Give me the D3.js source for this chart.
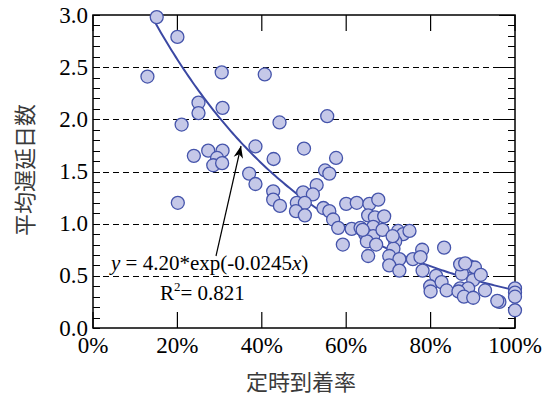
<!DOCTYPE html>
<html>
<head>
<meta charset="utf-8">
<script src="https://cdn.jsdelivr.net/npm/d3@7"></script>
<style>
  body { margin: 0; background: #fff; }
</style>
</head>
<body>
<div id="vis"></div>
<script>
// on-time rate (%) vs. average delay days
const rate = [15.1, 20.0, 12.9, 30.5, 25.0, 25.0, 30.7, 21.0, 23.9, 27.3, 30.7, 29.4, 28.5, 30.6, 20.1,
  40.7, 44.2, 55.5, 38.5, 50.0, 42.8, 57.6, 37.0, 38.5, 55.0, 56.0, 42.7, 42.7, 44.3, 53.0,
  49.8, 52.1, 48.3, 50.2, 48.1, 50.2, 54.6, 56.0, 56.9, 58.1, 59.2, 60.0, 62.5, 65.5, 67.6,
  61.3, 63.4, 65.2, 66.8, 66.4, 64.5, 66.4, 64.9, 67.1, 65.2, 68.6, 69.0, 63.9, 72.3, 73.5,
  75.0, 71.6, 71.2, 70.2, 72.6, 70.2, 72.6, 75.8, 78.0, 77.6, 78.1, 83.2, 81.3, 79.9, 80.0,
  82.6, 83.8, 87.4, 89.3, 90.5, 87.4, 90.1, 91.9, 87.0, 88.9, 86.6, 87.9, 90.1, 92.9, 96.3,
  100, 100, 100, 100, 87.0, 88.2, 95.8, 71.0];
const delay = [2.98, 2.79, 2.41, 2.45, 2.16, 2.06, 2.11, 1.95, 1.65, 1.70, 1.70, 1.63, 1.56, 1.58, 1.20,
  2.43, 1.97, 2.03, 1.74, 1.72, 1.62, 1.63, 1.48, 1.38, 1.51, 1.48, 1.31, 1.23, 1.17, 1.37,
  1.30, 1.28, 1.20, 1.20, 1.12, 1.08, 1.15, 1.12, 1.04, 0.96, 0.80, 1.19, 1.20, 1.19, 1.23,
  0.95, 0.96, 1.08, 1.06, 0.97, 0.90, 0.88, 0.83, 0.80, 0.69, 0.94, 1.07, 0.94, 0.93, 0.90,
  0.93, 0.83, 0.76, 0.69, 0.66, 0.60, 0.55, 0.66, 0.75, 0.68, 0.55, 0.77, 0.50, 0.40, 0.35,
  0.44, 0.36, 0.60, 0.59, 0.58, 0.52, 0.46, 0.51, 0.38, 0.38, 0.35, 0.30, 0.29, 0.36, 0.25,
  0.38, 0.34, 0.30, 0.17, 0.61, 0.62, 0.26, 0.88];

const xTicks = [0, 20, 40, 60, 80, 100];
const yMajor = [0, 0.5, 1.0, 1.5, 2.0, 2.5, 3.0];
const yGrid = [0.5, 1.0, 1.5, 2.0, 2.5];

// fitted curve y = a * exp(b x)
const fitA = 4.20;
const fitB = -0.0245;

const width = 554, height = 398;
const plot = { left: 93, right: 515, top: 15, bottom: 328 };
const SERIF = "'Liberation Serif', 'Times New Roman', Times, serif";
const CJK = "'Noto Sans CJK JP', 'Noto Sans CJK SC', sans-serif";

const svg = d3.select('#vis').append('svg')
  .attr('width', width)
  .attr('height', height);

const x = d3.scaleLinear().domain([0, 100]).range([plot.left, plot.right]);
const y = d3.scaleLinear().domain([0, 3]).range([plot.bottom, plot.top]);

// dashed grid
svg.selectAll('.grid').data(yGrid).enter().append('line')
  .attr('x1', plot.left).attr('x2', plot.right)
  .attr('y1', d => Math.round(y(d)) + 0.5).attr('y2', d => Math.round(y(d)) + 0.5)
  .attr('stroke', '#000').attr('stroke-width', 1)
  .attr('stroke-dasharray', '6,4');

// minor y ticks (0.1) on both sides
const yMinor = d3.range(0, 31).map(i => i / 10);
svg.selectAll('.ytl').data(yMinor).enter().append('line')
  .attr('x1', plot.left).attr('x2', plot.left + 7)
  .attr('y1', d => Math.round(y(d)) + 0.5).attr('y2', d => Math.round(y(d)) + 0.5)
  .attr('stroke', '#000');
svg.selectAll('.ytr').data(yMinor).enter().append('line')
  .attr('x1', plot.right).attr('x2', d => plot.right - (Math.round(d * 10) % 5 === 0 ? 16 : 7))
  .attr('y1', d => Math.round(y(d)) + 0.5).attr('y2', d => Math.round(y(d)) + 0.5)
  .attr('stroke', '#000');

// x ticks top & bottom
svg.selectAll('.xtb').data(xTicks).enter().append('line')
  .attr('x1', d => x(d)).attr('x2', d => x(d))
  .attr('y1', plot.bottom).attr('y2', plot.bottom - 16)
  .attr('stroke', '#000').attr('stroke-width', 1.2);
svg.selectAll('.xtt').data(xTicks).enter().append('line')
  .attr('x1', d => x(d)).attr('x2', d => x(d))
  .attr('y1', plot.top).attr('y2', plot.top + 16)
  .attr('stroke', '#000').attr('stroke-width', 1.2);

// frame
svg.append('rect')
  .attr('x', plot.left).attr('y', plot.top)
  .attr('width', plot.right - plot.left).attr('height', plot.bottom - plot.top)
  .attr('fill', 'none').attr('stroke', '#000').attr('stroke-width', 1.5);

// tick labels
svg.selectAll('.ylab').data(yMajor).enter().append('text')
  .attr('x', plot.left - 5).attr('y', d => y(d) + 7.5)
  .attr('text-anchor', 'end').attr('font-size', 23)
  .attr('font-family', SERIF)
  .text(d => d.toFixed(1));
svg.selectAll('.xlab').data(xTicks).enter().append('text')
  .attr('x', d => x(d)).attr('y', 353)
  .attr('text-anchor', 'middle').attr('font-size', 23)
  .attr('font-family', SERIF)
  .text(d => d + '%');

// axis titles
svg.append('text')
  .attr('x', x(50) - 3).attr('y', 390)
  .attr('text-anchor', 'middle').attr('font-size', 22)
  .attr('font-family', CJK).attr('fill', '#3a3a3a')
  .text('定時到着率');
svg.append('text')
  .attr('transform', 'translate(33,170) rotate(-90)')
  .attr('text-anchor', 'middle').attr('font-size', 22)
  .attr('font-family', CJK).attr('fill', '#3a3a3a')
  .text('平均遅延日数');

// fit curve
const fitXs = d3.range(14.6, 100.01, 0.5);
svg.append('path')
  .datum(fitXs)
  .attr('d', d3.line().x(d => x(d)).y(d => y(fitA * Math.exp(fitB * d))))
  .attr('fill', 'none').attr('stroke', '#3b48a3').attr('stroke-width', 2);

// points
svg.selectAll('circle').data(rate).enter().append('circle')
  .attr('cx', d => x(d))
  .attr('cy', (d, i) => y(delay[i]))
  .attr('r', 6.5)
  .attr('fill', '#c5c8e8')
  .attr('stroke', '#4554ab').attr('stroke-width', 1.3);

// annotation arrow
svg.append('defs').append('marker')
  .attr('id', 'head').attr('viewBox', '0 0 10 10')
  .attr('refX', 10).attr('refY', 5)
  .attr('markerWidth', 10).attr('markerHeight', 10)
  .attr('orient', 'auto')
  .append('path').attr('d', 'M0,1 L10,5 L0,9 L3,5 Z').attr('fill', '#000');
svg.append('line')
  .attr('x1', 216).attr('y1', 256).attr('x2', 241).attr('y2', 146)
  .attr('stroke', '#000').attr('stroke-width', 1.2)
  .attr('marker-end', 'url(#head)');

const eq = svg.append('text').attr('x', 111).attr('y', 270)
  .attr('font-size', 21).attr('font-family', SERIF);
eq.append('tspan').attr('font-style', 'italic').text('y');
eq.append('tspan').text(' = 4.20*exp(-0.0245');
eq.append('tspan').attr('font-style', 'italic').text('x');
eq.append('tspan').text(')');

const r2 = svg.append('text').attr('x', 160).attr('y', 300)
  .attr('font-size', 21).attr('font-family', SERIF);
r2.append('tspan').text('R');
r2.append('tspan').attr('font-size', 13).attr('dy', -9).text('2');
r2.append('tspan').attr('dy', 9).text('= 0.821');
</script>
</body>
</html>
